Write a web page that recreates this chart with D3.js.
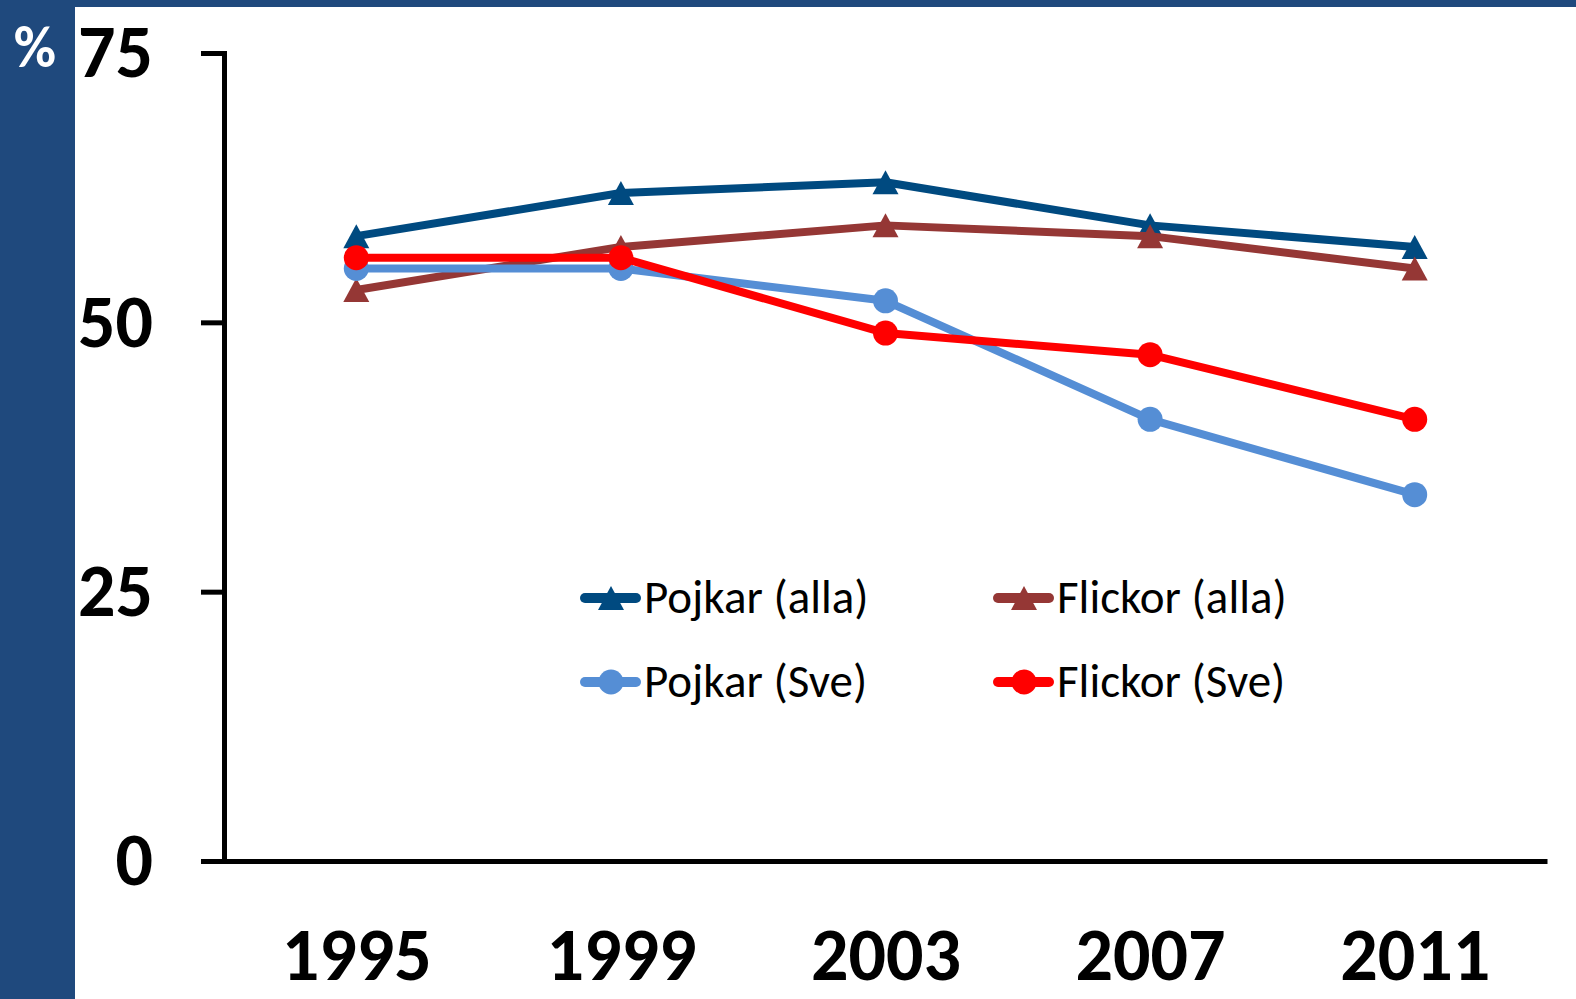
<!DOCTYPE html>
<meta charset="utf-8">
<html>
<head>
  <script src="https://d3js.org/d3.v7.min.js" charset="utf-8"></script>
</head>
<style>
body {
    margin: 0;
    background-color: white;
}
svg {
    display: block;
}
.axis text {
    font-family: Carlito, "Liberation Sans", Arial, sans-serif;
    font-weight: bold;
    fill: black;
}
.legend text {
    font-family: Carlito, "Liberation Sans", Arial, sans-serif;
    font-size: 47px;
    fill: black;
}
</style>
<body>
<div id="container"></div>
<script type="text/javascript">

var years = ["1995", "1999", "2003", "2007", "2011"]
var yTicks = [0, 25, 50, 75]

var pojkarAlla = [58, 62, 63, 59, 57]
var flickorAlla = [53, 57, 59, 58, 55]
var pojkarSve = [55, 55, 52, 41, 34]
var flickorSve = [56, 56, 49, 47, 41]

var seriesNames = ["Pojkar (alla)", "Flickor (alla)", "Pojkar (Sve)", "Flickor (Sve)"]
var seriesColors = ["#004a80", "#953735", "#558ed5", "#ff0000"]
var seriesMarkers = ["triangle", "triangle", "circle", "circle"]

var series = [pojkarAlla, flickorAlla, pojkarSve, flickorSve].map(function(vals, i) {
  return {name: seriesNames[i], color: seriesColors[i], marker: seriesMarkers[i],
          values: vals.map(function(v, j) { return {year: years[j], value: v} })}
})

var width = 1576
var height = 999

var svg = d3.select("#container")
            .append("svg")
            .attr("width", width)
            .attr("height", height)

// blue frame: top strip and left band
svg.append("rect").attr("x", 0).attr("y", 0).attr("width", width).attr("height", 7).attr("fill", "#1f497d")
svg.append("rect").attr("x", 0).attr("y", 0).attr("width", 75).attr("height", height).attr("fill", "#1f497d")

svg.append("text")
   .attr("x", 35)
   .attr("y", 67)
   .attr("text-anchor", "middle")
   .style("font-family", "Carlito, 'Liberation Sans', Arial, sans-serif")
   .style("font-weight", "bold")
   .style("font-size", "58px")
   .attr("fill", "white")
   .text("%")

var x = d3.scalePoint().domain(years).range([224, 1547]).padding(0.5)
var y = d3.scaleLinear().domain([0, 75]).range([861, 53])

// x axis
var xAxis = svg.append("g")
   .attr("class", "axis")
   .attr("transform", "translate(0,861)")
   .call(d3.axisBottom(x).tickSize(0).tickSizeOuter(0).tickPadding(66))
xAxis.select(".domain").attr("stroke", "black").attr("stroke-width", 5)
xAxis.selectAll("text").style("font-size", "74px")

// y axis
var yAxis = svg.append("g")
   .attr("class", "axis")
   .attr("transform", "translate(224,0)")
   .call(d3.axisLeft(y).tickValues(yTicks).tickSize(23).tickSizeOuter(0).tickPadding(48))
yAxis.select(".domain").attr("stroke", "black").attr("stroke-width", 5).attr("stroke-linecap", "square")
yAxis.selectAll(".tick line").attr("stroke", "black").attr("stroke-width", 5)
yAxis.selectAll("text").style("font-size", "74px").attr("dy", "0.32em")

// Excel-style triangle marker
var triangle = {
  draw: function(context, size) {
    context.moveTo(0, -12)
    context.lineTo(13, 12)
    context.lineTo(-13, 12)
    context.closePath()
  }
}

var line = d3.line()
             .x(function(d) { return x(d.year) })
             .y(function(d) { return y(d.value) })

function drawMarker(g, s, cx, cy) {
  if (s.marker == "circle") {
    g.append("circle").attr("cx", cx).attr("cy", cy).attr("r", 12.5).attr("fill", s.color)
  } else {
    g.append("path")
     .attr("d", d3.symbol().type(triangle)())
     .attr("transform", "translate(" + cx + "," + cy + ")")
     .attr("fill", s.color)
  }
}

series.forEach(function(s) {
  var g = svg.append("g")
  g.append("path")
   .datum(s.values)
   .attr("d", line)
   .attr("fill", "none")
   .attr("stroke", s.color)
   .attr("stroke-width", 8)
   .attr("stroke-linejoin", "round")
  s.values.forEach(function(d) {
    drawMarker(g, s, x(d.year), y(d.value))
  })
})

// legend
var legend = svg.append("g").attr("class", "legend")
var legendCols = [580, 993]
var legendRows = [598, 682]

series.forEach(function(s, i) {
  var lx = legendCols[i % 2]
  var ly = legendRows[Math.floor(i / 2)]
  var g = legend.append("g")
  g.append("line")
   .attr("x1", lx + 5).attr("x2", lx + 56)
   .attr("y1", ly).attr("y2", ly)
   .attr("stroke", s.color)
   .attr("stroke-width", 10)
   .attr("stroke-linecap", "round")
  drawMarker(g, s, lx + 31, ly)
  g.append("text")
   .attr("x", lx + 64)
   .attr("y", ly + 15)
   .text(s.name)
})

</script>
</body>
</html>
